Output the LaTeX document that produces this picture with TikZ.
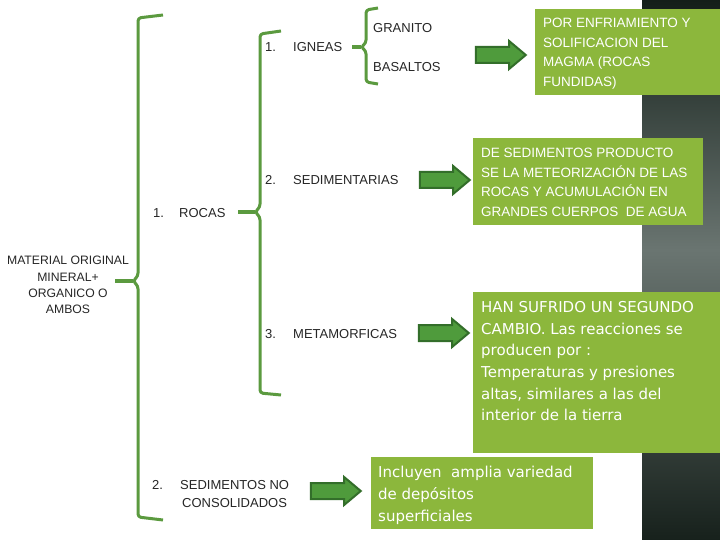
\documentclass[tikz,border=0pt]{standalone}
\usepackage{fontspec}
\setmainfont{Liberation Sans}
\newfontfamily\tah{DejaVu Sans}
\usetikzlibrary{shapes.arrows}
\definecolor{brk}{HTML}{5B9A3F}
\definecolor{boxg}{HTML}{8CB73C}
\definecolor{arrf}{HTML}{4F9B3C}
\definecolor{arrd}{HTML}{336E2A}
\definecolor{panT}{HTML}{131F19}
\definecolor{panM}{HTML}{6A7571}
\definecolor{panB}{HTML}{17211C}
\begin{document}
\begin{tikzpicture}[x=1pt,y=-1pt,
  lbl/.style={font=\fontsize{13}{18}\selectfont, inner sep=0, anchor=west, text=black!85},
  matlbl/.style={font=\fontsize{12.2}{16.3}\selectfont, inner sep=0, align=center, text=black!85},
  brace/.style={draw=brk, line width=3pt, rounded corners=3pt, line join=round},
  conn/.style={draw=brk, line width=3.5pt},
  box/.style={fill=boxg, inner sep=0, anchor=north west},
  btxt/.style={font=\fontsize{13.5}{19.5}\selectfont, text=white, align=left, inner sep=0, anchor=north west},
  ttxt/.style={font=\tah\fontsize{15}{21.7}\selectfont, text=white, align=left, inner sep=0, anchor=north west},
  blk/.style={single arrow, single arrow head extend=6pt, single arrow tip angle=80, minimum height=50pt, inner sep=0, inner ysep=7pt, fill=arrf, draw=arrd, line width=2pt}
]
\useasboundingbox (0,0) rectangle (720,540);
\fill[white] (0,0) rectangle (720,540);
% right dark panel
\begin{scope}[y=1pt]
\shade[top color=panT, bottom color=panM] (642,0) rectangle (720,-250);
\shade[top color=panM, bottom color=panB] (642,-250) rectangle (720,-540);
\end{scope}

% brackets
\draw[brace] (163,15) -- (138,18) -- (138,276) -- (133,281) -- (138,286) -- (138,517) -- (163,520);
\draw[brace] (281,31) -- (260,34) -- (260,207) -- (255,212) -- (260,217) -- (260,393) -- (281,395);
\draw[brace] (378,8) -- (366,10) -- (366,43) -- (361,47) -- (366,51) -- (366,82) -- (378,84);
\coordinate (tipA) at (133,281);
\coordinate (tipB) at (255,212);
\coordinate (tipC) at (361,47);

% labels
\node[matlbl] (mat) at (68,285) {MATERIAL ORIGINAL\\MINERAL+\\ORGANICO O\\AMBOS};
\node[lbl] (roc) at (153,213) {\makebox[26pt][l]{1.}ROCAS};
\node[lbl] (ign) at (265,47) {\makebox[28pt][l]{1.}IGNEAS};
\node[lbl] (gra) at (373,28) {GRANITO};
\node[lbl] (bas) at (373,67) {BASALTOS};
\node[lbl] (sed) at (265,180) {\makebox[28pt][l]{2.}SEDIMENTARIAS};
\node[lbl] (met) at (265,334) {\makebox[28pt][l]{3.}METAMORFICAS};
\node[lbl, align=left] (snc) at (152,494) {\makebox[28pt][l]{2.}SEDIMENTOS NO\\\hspace*{30pt}CONSOLIDADOS};

% connectors to bracket tips
\coordinate (cA) at (115,281);
\coordinate (cB) at (238,212);
\coordinate (cC) at (352,47);
\draw[conn] (cA) -- (tipA);
\draw[conn] (cB) -- (tipB);
\draw[conn] (cC) -- (tipC);

% boxes
\node[box, minimum width=185pt, minimum height=86pt] (b1) at (535,9) {};
\node[btxt] (t1) at (543,18) {POR ENFRIAMIENTO Y\\SOLIFICACION DEL\\MAGMA (ROCAS\\FUNDIDAS)};
\node[box, minimum width=230pt, minimum height=87pt] (b2) at (473,138) {};
\node[btxt] (t2) at (481,148) {DE SEDIMENTOS PRODUCTO\\SE LA METEORIZACIÓN DE LAS\\ROCAS Y ACUMULACIÓN EN\\GRANDES CUERPOS\ \ DE AGUA};
\node[box, minimum width=247pt, minimum height=161pt] (b3) at (473,292) {};
\node[ttxt] (t3) at (481,301) {HAN SUFRIDO UN SEGUNDO\\CAMBIO. Las reacciones se\\producen por :\\Temperaturas y presiones\\altas, similares a las del\\interior de la tierra};
\node[box, minimum width=222pt, minimum height=72pt] (b4) at (371,457) {};
\node[ttxt] (t4) at (378,466) {Incluyen\ \ amplia variedad\\de depósitos\\superficiales};

% block arrows
\node[blk] (a1) at (496,55) {};
\node[blk] (a2) at (440,180) {};
\node[blk] (a3) at (439,333) {};
\node[blk] (a4) at (331,491) {};
\end{tikzpicture}
\end{document}
